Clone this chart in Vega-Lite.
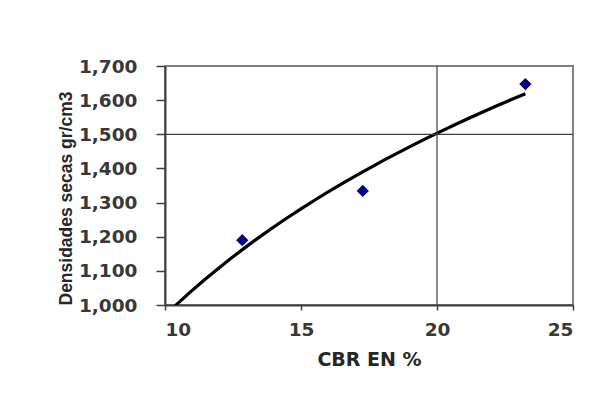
{
  "$schema": "https://vega.github.io/schema/vega-lite/v6.json",
  "width": 408,
  "height": 239,
  "autosize": {"type": "none"},
  "padding": {"left": 165, "top": 66, "right": 25, "bottom": 95},
  "background": "white",
  "config": {
    "view": {"stroke": "#808080", "strokeWidth": 2},
    "axis": {
      "labelFont": "DejaVu Sans",
      "labelFontSize": 18.5,
      "labelFontWeight": "bold",
      "labelColor": "#383838",
      "labelOverlap": false,
      "domainColor": "#404040",
      "domainWidth": 2,
      "tickColor": "#404040",
      "tickWidth": 1.5,
      "grid": false,
      "titleColor": "#262626"
    }
  },
  "datasets": {
    "pts": [
      {"cbr": 12.84, "dens": 1190},
      {"cbr": 17.27, "dens": 1334},
      {"cbr": 23.25, "dens": 1647}
    ],
    "gx": [{"cbr": 20}],
    "gy": [{"dens": 1500}]
  },
  "encoding": {
    "x": {
      "field": "cbr", "type": "quantitative",
      "scale": {"domain": [10, 25], "nice": false},
      "axis": {
        "title": "CBR EN %",
        "values": [10, 15, 20, 25],
        "format": "d",
        "tickSize": 5,
        "labelPadding": 10,
        "titleFont": "DejaVu Sans",
        "titleFontSize": 19,
        "titleFontWeight": "bold",
        "titlePadding": 12
      }
    },
    "y": {
      "field": "dens", "type": "quantitative",
      "scale": {"domain": [1000, 1700], "nice": false, "zero": false},
      "axis": {
        "title": "Densidades secas gr/cm3",
        "values": [1000, 1100, 1200, 1300, 1400, 1500, 1600, 1700],
        "format": ",.0f",
        "tickSize": 9,
        "labelPadding": 19,
        "titleFont": "Liberation Sans",
        "titleFontSize": 17.5,
        "titleFontWeight": "bold",
        "titleAnchor": "start",
        "titlePadding": 3
      }
    }
  },
  "layer": [
    {
      "data": {"name": "pts"},
      "transform": [
        {"regression": "dens", "on": "cbr", "method": "log", "extent": [10.38, 23.25]}
      ],
      "mark": {"type": "line", "color": "black", "strokeWidth": 3.2, "clip": true}
    },
    {
      "data": {"name": "gx"},
      "mark": {"type": "rule", "color": "#404040", "strokeWidth": 1.2},
      "encoding": {"y": null}
    },
    {
      "data": {"name": "gy"},
      "mark": {"type": "rule", "color": "#404040", "strokeWidth": 1.2},
      "encoding": {"x": null}
    },
    {
      "data": {"name": "pts"},
      "mark": {"type": "point", "shape": "diamond", "filled": true, "color": "#000080", "opacity": 1, "size": 150}
    }
  ]
}
